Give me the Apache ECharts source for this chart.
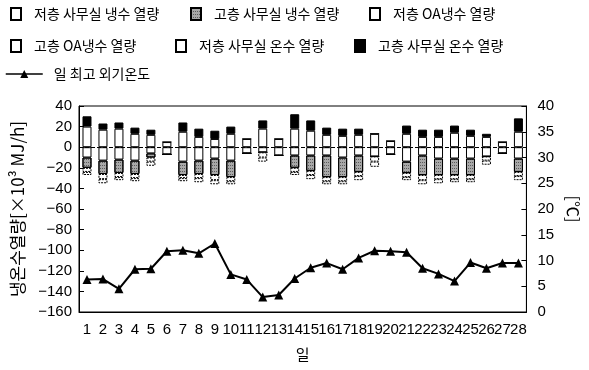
<!DOCTYPE html>
<html>
<head>
<meta charset="utf-8">
<script src="https://cdn.jsdelivr.net/npm/echarts@6/dist/echarts.min.js"></script>
<style>
  html, body { margin: 0; padding: 0; background: #fff; }
  #chart { width: 589px; height: 370px; }
</style>
</head>
<body>
<div id="chart"></div>
<script>
// Days of the month
const days = ['1','2','3','4','5','6','7','8','9','10','11','12','13','14','15','16','17','18','19','20','21','22','23','24','25','26','27','28'];

// Chilled-water loads (×10³ MJ/h, drawn downward)
const lowOfficeCold  = [-10,-13,-12,-13,-6,-7,-14,-13,-11,-13,-6,-5,-8,-8,-8,-8,-10,-8,-9,-7,-14,-8,-11,-11,-11,-9,-6,-11];
const highOfficeCold = [-10,-13,-13,-13,-4,0,-13,-13,-16,-16,0,0,0,-12,-15,-21,-19,-16,0,0,-11,-19,-16,-16,-16,0,0,-13];
const lowOACold      = [-4,-5,-4,-4,-4,0,-3,-4,-5,-4,0,-5,0,-4,-4,-4,-4,-4,-5,0,-4,-5,-4,-4,-4,-4,0,-4];
const highOACold     = [-3,-4,-3,-3,-4,0,-3,-4,-4,-3,0,-4,0,-3,-4,-3,-3,-4,-5,0,-3,-4,-4,-3,-3,-4,0,-4];

// Hot-water loads (×10³ MJ/h, drawn upward)
const lowOfficeHot  = [20,17,18,13,12,5,15,10,8,13,8,18,8,18,16,12,11,12,13,6,13,10,10,14,11,10,5,15];
const highOfficeHot = [10,6,6,6,5,0,9,8,8,7,0,8,0,14,10,7,7,6,0,0,8,7,7,7,6,3,0,13];

// Daily maximum outdoor temperature (℃)
const maxTemp = [6.3,6.4,4.5,8.3,8.4,11.8,12.0,11.4,13.3,7.3,6.3,2.9,3.3,6.5,8.6,9.5,8.3,10.5,11.9,11.8,11.6,8.5,7.4,6.0,9.6,8.5,9.5,9.5];

// Axis ticks
const leftTicks = { min: -160, max: 40, step: 20 };
const rightTicks = { min: 0, max: 40, step: 5 };

const seriesNames = ['저층 사무실 냉수 열량','고층 사무실 냉수 열량','저층 OA냉수 열량','고층 OA냉수 열량','저층 사무실 온수 열량','고층 사무실 온수 열량','일 최고 외기온도'];

const numFont = '"Liberation Sans Narrow", "Liberation Sans", sans-serif';
const krFont = '"Noto Sans CJK KR", "Noto Sans", sans-serif';

const chart = echarts.init(document.getElementById('chart'), null, { renderer: 'canvas' });

function barSeries(name, data, fill, extra) {
  return Object.assign({
    name: name,
    type: 'bar',
    stack: 'load',
    data: data,
    barWidth: 9,
    itemStyle: { color: fill, borderColor: '#000', borderWidth: 1 },
    emphasis: { disabled: true }
  }, extra || {});
}

const grayDecal = {
  symbol: 'rect',
  symbolSize: 1,
  color: 'rgba(0,0,0,0.45)',
  dashArrayX: [1, 1],
  dashArrayY: [1, 2],
  rotation: 0
};

function oneLegend(name, left, top, isLine) {
  return {
    data: [{ name: name, icon: isLine ? undefined : 'rect' }],
    left: left,
    top: top,
    padding: 0,
    orient: 'horizontal',
    itemWidth: isLine ? 37 : 10,
    itemHeight: isLine ? 10 : 12,
    itemGap: 0,
    selectedMode: false,
    lineStyle: isLine ? { width: 1.5 } : undefined,
    textStyle: { fontFamily: krFont, fontSize: 14, color: '#000', padding: [0, 0, 0, isLine ? 6 : 8] }
  };
}

const option = {
  animation: false,
  backgroundColor: '#fff',
  legend: [
    oneLegend(seriesNames[0], 10, 7),
    oneLegend(seriesNames[1], 190, 7),
    oneLegend(seriesNames[2], 369, 7),
    oneLegend(seriesNames[3], 10, 39),
    oneLegend(seriesNames[4], 175, 39),
    oneLegend(seriesNames[5], 354, 39),
    oneLegend(seriesNames[6], 5, 67, true)
  ],
  grid: {
    left: 79, right: 58, top: 106, bottom: 58,
    show: true, borderColor: '#000', borderWidth: 1, backgroundColor: 'transparent'
  },
  xAxis: {
    type: 'category',
    data: days,
    name: '일',
    nameLocation: 'middle',
    nameGap: 35,
    nameTextStyle: { fontFamily: krFont, fontSize: 15, color: '#000' },
    axisLine: { onZero: false, lineStyle: { color: '#000', width: 1 } },
    axisTick: { inside: true, length: 5, alignWithLabel: true, lineStyle: { color: '#000' } },
    axisLabel: { interval: 0, margin: 10, fontFamily: numFont, fontSize: 15, color: '#000' },
    splitLine: { show: false }
  },
  yAxis: [
    {
      type: 'value',
      min: leftTicks.min, max: leftTicks.max, interval: leftTicks.step,
      name: '냉온수열량[×10³ MJ/h]',
      nameLocation: 'middle',
      nameRotate: 90,
      nameGap: 53,
      nameTextStyle: { fontFamily: krFont, fontSize: 17, color: '#000' },
      axisLine: { show: true, lineStyle: { color: '#000', width: 1 } },
      axisTick: { show: true, inside: true, length: 5, lineStyle: { color: '#000' } },
      axisLabel: {
        margin: 7, fontFamily: numFont, fontSize: 15, color: '#000',
        formatter: v => (v < 0 ? '\u2212' + Math.abs(v) : String(v))
      },
      splitLine: { show: false }
    },
    {
      type: 'value',
      min: rightTicks.min, max: rightTicks.max, interval: rightTicks.step,
      name: '[℃]',
      nameLocation: 'middle',
      nameRotate: -90,
      nameGap: 34,
      nameTextStyle: { fontFamily: krFont, fontSize: 16, color: '#000' },
      axisLine: { show: true, lineStyle: { color: '#000', width: 1 } },
      axisTick: { show: true, inside: true, length: 5, lineStyle: { color: '#000' } },
      axisLabel: { margin: 11, fontFamily: numFont, fontSize: 15, color: '#000' },
      splitLine: { show: false }
    }
  ],
  series: [
    barSeries(seriesNames[0], lowOfficeCold, '#fff', {
      markLine: {
        silent: true,
        symbol: 'none',
        label: { show: false },
        lineStyle: { color: '#000', type: [4, 2], width: 1 },
        data: [{ yAxis: 0 }]
      }
    }),
    barSeries(seriesNames[1], highOfficeCold, '#a8a8a8', {
      itemStyle: { color: '#a8a8a8', borderColor: '#000', borderWidth: 1, decal: grayDecal }
    }),
    barSeries(seriesNames[2], lowOACold, '#fff', {
      itemStyle: { color: '#fff', borderColor: '#000', borderWidth: 1, borderType: [2, 1] }
    }),
    barSeries(seriesNames[3], highOACold, '#fff', {
      itemStyle: { color: '#fff', borderColor: '#000', borderWidth: 1, borderType: [2, 1] }
    }),
    barSeries(seriesNames[4], lowOfficeHot, '#fff'),
    barSeries(seriesNames[5], highOfficeHot, '#000'),
    {
      name: seriesNames[6],
      type: 'line',
      yAxisIndex: 1,
      data: maxTemp,
      symbol: 'triangle',
      symbolSize: 9,
      lineStyle: { color: '#000', width: 2 },
      itemStyle: { color: '#000' },
      emphasis: { disabled: true },
      z: 5
    }
  ]
};

chart.setOption(option);
</script>
</body>
</html>
